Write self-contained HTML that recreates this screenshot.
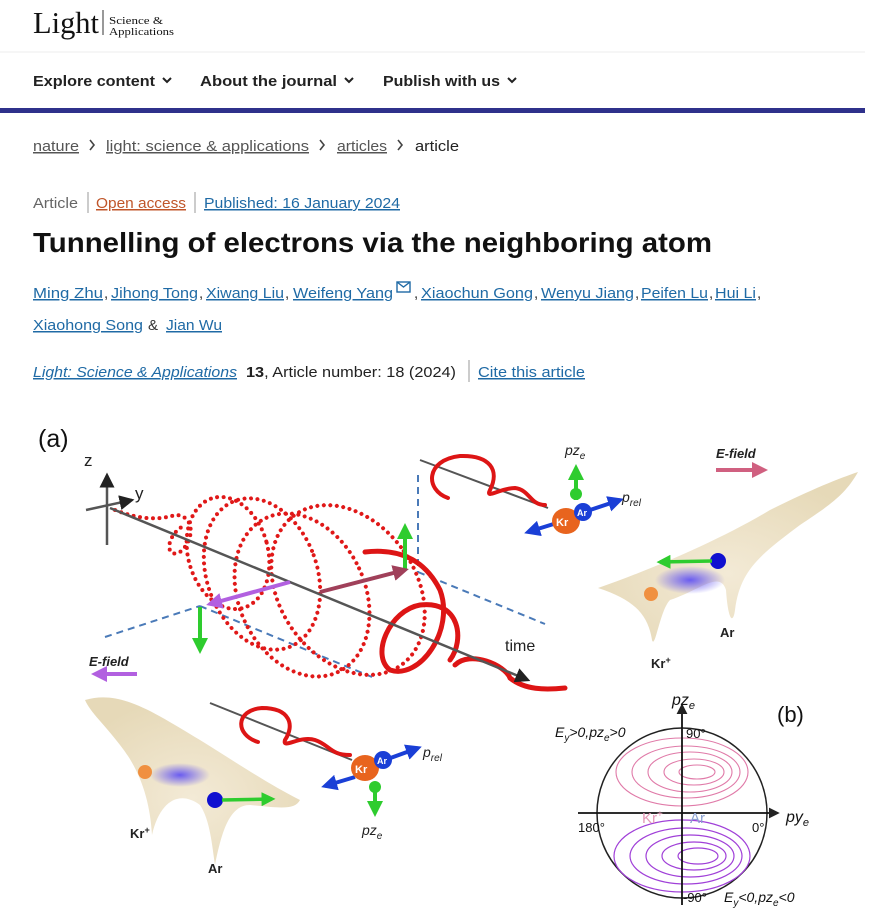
<!DOCTYPE html>
<html><head><meta charset="utf-8"><style>
html,body{margin:0;padding:0;background:#fff;width:870px;height:923px;overflow:hidden}
svg{display:block}
</style></head><body>
<svg width="870" height="923" viewBox="0 0 870 923" xmlns="http://www.w3.org/2000/svg" font-family="Liberation Sans, sans-serif">
<defs>
<marker id="ab" markerWidth="6" markerHeight="6" refX="5" refY="3" orient="auto"><path d="M0,0 L6,3 L0,6 z" fill="#222"/></marker>
<marker id="ag" markerWidth="4" markerHeight="4" refX="3" refY="2" orient="auto"><path d="M0,0 L4,2 L0,4 z" fill="#2ecc2e"/></marker>
<marker id="abl" markerWidth="4" markerHeight="4" refX="3" refY="2" orient="auto"><path d="M0,0 L4,2 L0,4 z" fill="#1a3fd6"/></marker>
<marker id="ap" markerWidth="4" markerHeight="4" refX="3" refY="2" orient="auto"><path d="M0,0 L4,2 L0,4 z" fill="#b260e0"/></marker>
<marker id="ar" markerWidth="4" markerHeight="4" refX="3" refY="2" orient="auto"><path d="M0,0 L4,2 L0,4 z" fill="#a0405a"/></marker>
<marker id="apk" markerWidth="4" markerHeight="4" refX="3" refY="2" orient="auto"><path d="M0,0 L4,2 L0,4 z" fill="#d06080"/></marker>
<radialGradient id="surf" cx="50%" cy="60%" r="60%"><stop offset="0" stop-color="#f3ead6"/><stop offset="1" stop-color="#e6d9b8"/></radialGradient>
<radialGradient id="blu" cx="50%" cy="50%" r="50%"><stop offset="0" stop-color="#6a5cf0"/><stop offset="1" stop-color="#6a5cf0" stop-opacity="0"/></radialGradient>
</defs>

<!-- header -->
<text x="33" y="33" font-family="Liberation Serif, serif" font-size="31" fill="#111" textLength="66" lengthAdjust="spacingAndGlyphs">Light</text>
<line x1="103" y1="10" x2="103" y2="35" stroke="#333" stroke-width="1"/>
<text x="109" y="24" font-family="Liberation Serif, serif" font-size="11" fill="#111" textLength="54" lengthAdjust="spacingAndGlyphs">Science &amp;</text>
<text x="109" y="35" font-family="Liberation Serif, serif" font-size="11" fill="#111" textLength="65" lengthAdjust="spacingAndGlyphs">Applications</text>
<line x1="0" y1="52" x2="865" y2="52" stroke="#eee" stroke-width="1"/>

<g font-size="15" font-weight="bold" fill="#222">
<text x="33" y="86" textLength="122" lengthAdjust="spacingAndGlyphs">Explore content</text>
<text x="200" y="86" textLength="137" lengthAdjust="spacingAndGlyphs">About the journal</text>
<text x="383" y="86" textLength="117" lengthAdjust="spacingAndGlyphs">Publish with us</text>
</g>
<g stroke="#222" stroke-width="2" fill="none">
<path d="M163,78 l4,4 l4,-4"/><path d="M345,78 l4,4 l4,-4"/><path d="M508,78 l4,4 l4,-4"/>
</g>
<rect x="0" y="108" width="865" height="5" fill="#2f318b"/>

<!-- breadcrumb -->
<g font-size="15" fill="#555">
<text x="33" y="151" textLength="46" lengthAdjust="spacingAndGlyphs" text-decoration="underline">nature</text>
<text x="106" y="151" textLength="203" lengthAdjust="spacingAndGlyphs" text-decoration="underline">light: science &amp; applications</text>
<text x="337" y="151" textLength="50" lengthAdjust="spacingAndGlyphs" text-decoration="underline">articles</text>
<text x="415" y="151" textLength="44" lengthAdjust="spacingAndGlyphs" fill="#222">article</text>
</g>
<g stroke="#444" stroke-width="1.6" fill="none">
<path d="M90,140 l4,5 l-4,5"/><path d="M320,140 l4,5 l-4,5"/><path d="M398,140 l4,5 l-4,5"/>
</g>

<!-- meta -->
<text x="33" y="208" font-size="15" fill="#666" textLength="45" lengthAdjust="spacingAndGlyphs">Article</text>
<line x1="88" y1="192" x2="88" y2="213" stroke="#999"/>
<text x="96" y="208" font-size="15" fill="#c0562a" textLength="90" lengthAdjust="spacingAndGlyphs" text-decoration="underline">Open access</text>
<line x1="195" y1="192" x2="195" y2="213" stroke="#999"/>
<text x="204" y="208" font-size="15" fill="#1f6aa5" textLength="196" lengthAdjust="spacingAndGlyphs" text-decoration="underline">Published: 16 January 2024</text>

<text x="33" y="252" font-size="28" font-weight="bold" fill="#111" textLength="679" lengthAdjust="spacingAndGlyphs">Tunnelling of electrons via the neighboring atom</text>

<g font-size="15" fill="#1f6aa5" text-decoration="underline">
<text x="33" y="298" textLength="70" lengthAdjust="spacingAndGlyphs">Ming Zhu</text>
<text x="111" y="298" textLength="87" lengthAdjust="spacingAndGlyphs">Jihong Tong</text>
<text x="206" y="298" textLength="78" lengthAdjust="spacingAndGlyphs">Xiwang Liu</text>
<text x="293" y="298" textLength="100" lengthAdjust="spacingAndGlyphs">Weifeng Yang</text>
<text x="421" y="298" textLength="112" lengthAdjust="spacingAndGlyphs">Xiaochun Gong</text>
<text x="541" y="298" textLength="93" lengthAdjust="spacingAndGlyphs">Wenyu Jiang</text>
<text x="641" y="298" textLength="67" lengthAdjust="spacingAndGlyphs">Peifen Lu</text>
<text x="715" y="298" textLength="41" lengthAdjust="spacingAndGlyphs">Hui Li</text>
<text x="33" y="330" textLength="110" lengthAdjust="spacingAndGlyphs">Xiaohong Song</text>
<text x="166" y="330" textLength="56" lengthAdjust="spacingAndGlyphs">Jian Wu</text>
</g>
<g font-size="15" fill="#333">
<text x="104" y="298">,</text><text x="199" y="298">,</text><text x="285" y="298">,</text><text x="414" y="298">,</text><text x="534" y="298">,</text><text x="635" y="298">,</text><text x="709" y="298">,</text><text x="757" y="298">,</text>
<text x="148" y="330">&amp;</text>
</g>
<rect x="397" y="282" width="13" height="10" fill="none" stroke="#1f6aa5" stroke-width="1.4"/>
<path d="M397,282 l6.5,5 l6.5,-5" fill="none" stroke="#1f6aa5" stroke-width="1.4"/>

<text x="33" y="377" font-size="15" font-style="italic" fill="#1f6aa5" textLength="204" lengthAdjust="spacingAndGlyphs" text-decoration="underline">Light: Science &amp; Applications</text>
<text x="246" y="377" font-size="15" fill="#222" textLength="210" lengthAdjust="spacingAndGlyphs"><tspan font-weight="bold">13</tspan>, Article number: 18 (2024)</text>
<line x1="469" y1="360" x2="469" y2="382" stroke="#999"/>
<text x="478" y="377" font-size="15" fill="#1f6aa5" textLength="107" lengthAdjust="spacingAndGlyphs" text-decoration="underline">Cite this article</text>

<!-- FIGURE (a) -->
<text x="38" y="447" font-size="25" fill="#111">(a)</text>
<text x="84" y="466" font-size="17" fill="#222">z</text>
<text x="135" y="499" font-size="17" fill="#222">y</text>
<g stroke="#555" stroke-width="2.5">
<line x1="107" y1="545" x2="107" y2="475" marker-end="url(#ab)"/>
<line x1="86" y1="510" x2="132" y2="500" marker-end="url(#ab)"/>
</g>
<!-- dashed planes -->
<g stroke="#4a7ab8" stroke-width="2" stroke-dasharray="7,5" fill="none">
<line x1="105" y1="637" x2="200" y2="606"/>
<line x1="200" y1="606" x2="372" y2="677"/>
<line x1="418" y1="475" x2="418" y2="572"/>
<line x1="418" y1="572" x2="545" y2="624"/>
</g>
<!-- dotted helix -->
<g fill="none" stroke="#e01818" stroke-width="4" stroke-linecap="round" stroke-dasharray="0,6.5">
<path d="M115,510 C140,520 160,520 175,515 C195,515 195,540 180,552 C165,560 165,535 185,525"/>
<ellipse cx="228" cy="553" rx="40" ry="57" transform="rotate(-15 228 553)"/>
<ellipse cx="262" cy="574" rx="55" ry="78" transform="rotate(-20 262 574)"/>
<ellipse cx="302" cy="595" rx="63" ry="85" transform="rotate(-25 302 595)"/>
<ellipse cx="348" cy="590" rx="68" ry="92" transform="rotate(-35 348 590)"/>
</g>
<!-- solid helix -->
<g fill="none" stroke="#dd1515" stroke-width="5" stroke-linecap="round">
<path d="M365,552 C400,548 425,560 440,590 C455,630 420,680 390,670 C370,655 390,610 420,605 C460,600 465,640 450,660"/>
<path d="M455,665 C470,650 505,665 510,678 C525,690 545,690 565,688"/>
</g>
<!-- time axis -->
<line x1="110" y1="508" x2="528" y2="680" stroke="#555" stroke-width="2.5" marker-end="url(#ab)"/>
<text x="505" y="651" font-size="16" fill="#222">time</text>
<!-- arrows -->
<line x1="405" y1="570" x2="405" y2="527" stroke="#2ecc2e" stroke-width="4" marker-end="url(#ag)"/>
<line x1="200" y1="607" x2="200" y2="650" stroke="#2ecc2e" stroke-width="4" marker-end="url(#ag)"/>
<line x1="290" y1="582" x2="210" y2="604" stroke="#b260e0" stroke-width="4" marker-end="url(#ap)"/>
<line x1="320" y1="592" x2="405" y2="570" stroke="#a0405a" stroke-width="4" marker-end="url(#ar)"/>
<text x="89" y="666" font-size="13" font-style="italic" font-weight="bold" fill="#222">E-field</text>
<line x1="137" y1="674" x2="95" y2="674" stroke="#b260e0" stroke-width="4" marker-end="url(#ap)"/>

<!-- top right small helix -->
<line x1="420" y1="460" x2="548" y2="508" stroke="#555" stroke-width="2"/>
<g fill="none" stroke="#dd1515" stroke-width="4" stroke-linecap="round">
<path d="M448,498 C425,490 425,460 460,456 C490,455 500,470 490,490 C485,500 500,488 515,488 C530,490 530,505 545,505"/>
</g>
<line x1="560" y1="522" x2="528" y2="532" stroke="#1a3fd6" stroke-width="4" marker-end="url(#abl)"/>
<line x1="590" y1="510" x2="620" y2="500" stroke="#1a3fd6" stroke-width="4" marker-end="url(#abl)"/>
<line x1="576" y1="500" x2="576" y2="468" stroke="#2ecc2e" stroke-width="4" marker-end="url(#ag)"/>
<circle cx="576" cy="494" r="6" fill="#2ecc2e"/>
<ellipse cx="566" cy="521" rx="14" ry="13" fill="#e8641e"/>
<circle cx="583" cy="512" r="9" fill="#1a3fd6"/>
<text x="556" y="526" font-size="11" font-weight="bold" fill="#fff">Kr</text>
<text x="577" y="516" font-size="9" font-weight="bold" fill="#fff">Ar</text>
<text x="565" y="455" font-size="14" font-style="italic" fill="#222">pz<tspan font-size="10" dy="4">e</tspan></text>
<text x="622" y="502" font-size="14" font-style="italic" fill="#222">p<tspan font-size="10" dy="4">rel</tspan></text>
<text x="716" y="458" font-size="13" font-style="italic" font-weight="bold" fill="#222">E-field</text>
<line x1="716" y1="470" x2="764" y2="470" stroke="#d06080" stroke-width="4" marker-end="url(#apk)"/>

<!-- top right surface -->
<path d="M598,588 C650,570 720,540 770,510 C810,490 840,478 858,472 C845,495 830,505 800,525 C760,555 740,570 735,610 C733,625 728,620 726,590 C720,570 700,590 670,600 C660,610 655,650 652,640 C648,615 635,600 598,588 Z" fill="url(#surf)"/>
<ellipse cx="690" cy="580" rx="35" ry="14" fill="url(#blu)"/>
<circle cx="651" cy="594" r="7" fill="#f09040"/>
<circle cx="718" cy="561" r="8" fill="#1010d0"/>
<line x1="712" y1="561" x2="660" y2="562" stroke="#2ecc2e" stroke-width="3.5" marker-end="url(#ag)"/>
<text x="651" y="668" font-size="13" font-weight="bold" fill="#222">Kr<tspan font-size="9" dy="-5">+</tspan></text>
<text x="720" y="637" font-size="13" font-weight="bold" fill="#222">Ar</text>

<!-- bottom left surface -->
<path d="M85,700 C120,690 150,710 200,740 C240,765 270,785 300,800 C295,810 280,808 250,805 C230,805 222,830 215,865 C212,845 210,820 200,805 C180,790 160,800 152,835 C150,800 140,770 120,745 C105,725 90,712 85,700 Z" fill="url(#surf)"/>
<ellipse cx="180" cy="775" rx="30" ry="12" fill="url(#blu)"/>
<circle cx="145" cy="772" r="7" fill="#f09040"/>
<circle cx="215" cy="800" r="8" fill="#1010d0"/>
<line x1="222" y1="800" x2="272" y2="799" stroke="#2ecc2e" stroke-width="3.5" marker-end="url(#ag)"/>
<text x="130" y="838" font-size="13" font-weight="bold" fill="#222">Kr<tspan font-size="9" dy="-5">+</tspan></text>
<text x="208" y="873" font-size="13" font-weight="bold" fill="#222">Ar</text>

<!-- bottom left small helix -->
<line x1="210" y1="703" x2="352" y2="760" stroke="#555" stroke-width="2"/>
<g fill="none" stroke="#dd1515" stroke-width="4" stroke-linecap="round">
<path d="M258,742 C235,735 235,710 262,708 C290,708 295,725 285,740 C282,750 300,735 315,740 C330,745 330,755 350,755"/>
</g>
<line x1="355" y1="777" x2="325" y2="786" stroke="#1a3fd6" stroke-width="4" marker-end="url(#abl)"/>
<line x1="385" y1="760" x2="418" y2="748" stroke="#1a3fd6" stroke-width="4" marker-end="url(#abl)"/>
<line x1="375" y1="785" x2="375" y2="813" stroke="#2ecc2e" stroke-width="4" marker-end="url(#ag)"/>
<circle cx="375" cy="787" r="6" fill="#2ecc2e"/>
<ellipse cx="365" cy="768" rx="14" ry="13" fill="#e8641e"/>
<circle cx="383" cy="760" r="9" fill="#1a3fd6"/>
<text x="355" y="773" font-size="11" font-weight="bold" fill="#fff">Kr</text>
<text x="377" y="764" font-size="9" font-weight="bold" fill="#fff">Ar</text>
<text x="362" y="835" font-size="14" font-style="italic" fill="#222">pz<tspan font-size="10" dy="4">e</tspan></text>
<text x="423" y="757" font-size="14" font-style="italic" fill="#222">p<tspan font-size="10" dy="4">rel</tspan></text>

<!-- (b) polar plot -->
<text x="777" y="722" font-size="22" fill="#111">(b)</text>
<circle cx="682" cy="813" r="85" fill="none" stroke="#222" stroke-width="1.5"/>
<g fill="none" stroke="#e07aa8" stroke-width="1.1">
<ellipse cx="682" cy="772" rx="66" ry="34"/><ellipse cx="686" cy="772" rx="54" ry="26"/><ellipse cx="690" cy="772" rx="42" ry="20"/><ellipse cx="694" cy="772" rx="30" ry="13"/><ellipse cx="697" cy="772" rx="18" ry="7"/>
</g>
<g fill="none" stroke="#a040d8" stroke-width="1.2">
<ellipse cx="682" cy="856" rx="68" ry="36"/><ellipse cx="686" cy="856" rx="56" ry="28"/><ellipse cx="690" cy="856" rx="44" ry="21"/><ellipse cx="694" cy="856" rx="32" ry="14"/><ellipse cx="698" cy="856" rx="20" ry="8"/>
</g>
<line x1="578" y1="813" x2="778" y2="813" stroke="#111" stroke-width="1.8" marker-end="url(#ab)"/>
<line x1="682" y1="905" x2="682" y2="705" stroke="#111" stroke-width="1.8" marker-end="url(#ab)"/>
<text x="672" y="705" font-size="16" font-style="italic" fill="#111">pz<tspan font-size="11" dy="4">e</tspan></text>
<text x="786" y="822" font-size="16" font-style="italic" fill="#111">py<tspan font-size="11" dy="4">e</tspan></text>
<text x="555" y="737" font-size="14" font-style="italic" fill="#111">E<tspan font-size="10" dy="4">y</tspan><tspan dy="-4">&gt;0,pz</tspan><tspan font-size="10" dy="4">e</tspan><tspan dy="-4">&gt;0</tspan></text>
<text x="686" y="738" font-size="13" fill="#111">90°</text>
<text x="578" y="832" font-size="13" fill="#111">180°</text>
<text x="752" y="832" font-size="13" fill="#111">0°</text>
<text x="683" y="902" font-size="13" fill="#111">-90°</text>
<text x="724" y="902" font-size="14" font-style="italic" fill="#111">E<tspan font-size="10" dy="4">y</tspan><tspan dy="-4">&lt;0,pz</tspan><tspan font-size="10" dy="4">e</tspan><tspan dy="-4">&lt;0</tspan></text>
<text x="642" y="823" font-size="15" fill="#e59ab8">Kr<tspan font-size="10" dy="-6">+</tspan></text>
<text x="690" y="823" font-size="15" fill="#8aa0d0">Ar</text>
</svg>
</body></html>
